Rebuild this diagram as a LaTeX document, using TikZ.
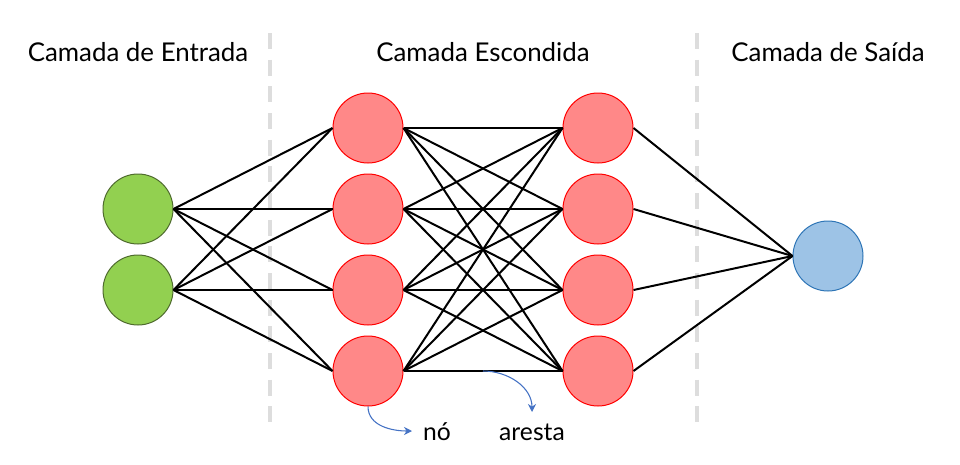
\documentclass[tikz,border=0pt]{standalone}
\usepackage{fontspec}
\setmainfont{Lato}
\usetikzlibrary{arrows.meta,calc}
\definecolor{ingreen}{HTML}{92D050}
\definecolor{ingreenb}{HTML}{4F6B2E}
\definecolor{hidred}{HTML}{FF8888}
\definecolor{hidredb}{HTML}{FF0000}
\definecolor{outblue}{HTML}{9DC3E6}
\definecolor{outblueb}{HTML}{2E75B6}
\definecolor{divgray}{HTML}{DDDDDD}
\definecolor{notecol}{HTML}{4472C4}
\tikzset{
  neuron/.style={circle, minimum size=52.5pt, inner sep=0pt, line width=0.75pt},
  inneuron/.style={neuron, draw=ingreenb, fill=ingreen},
  hidneuron/.style={neuron, draw=hidredb, fill=hidred},
  outneuron/.style={neuron, draw=outblueb, fill=outblue},
  edge/.style={line width=1.5pt, black},
  divider/.style={line width=2.4pt, divgray, dash pattern=on 12pt off 8pt},
  title/.style={font=\fontsize{19.4}{22}\selectfont},
  note/.style={font=\fontsize{18.5}{21}\selectfont},
  notearrow/.style={notecol, line width=0.8pt, -{Stealth[length=6pt,width=6pt]}}
}
\begin{document}
\begin{tikzpicture}[x=0.75pt,y=-0.75pt]
\useasboundingbox (0,0) rectangle (960,464);
% dividers
\coordinate (d1a) at (270,33); \coordinate (d1b) at (270,422);
\coordinate (d2a) at (697,33); \coordinate (d2b) at (697,422);
\draw[divider] (d1a) -- (d1b);
\draw[divider] (d2a) -- (d2b);
% titles
\node[title] (t1) at (138,52) {Camada de Entrada};
\node[title] (t2) at (483,52) {Camada Escondida};
\node[title] (t3) at (828,52) {Camada de Saída};
% neurons
\node[inneuron] (i1) at (138,209) {};
\node[inneuron] (i2) at (138,290) {};
\foreach \k/\y in {1/128,2/209,3/290,4/371} {
  \node[hidneuron] (a\k) at (368,\y) {};
  \node[hidneuron] (b\k) at (598,\y) {};
}
\node[outneuron] (o) at (828,256) {};
% edges
\foreach \i in {1,2} \foreach \k in {1,2,3,4} \draw[edge] (i\i.east) -- (a\k.west);
\foreach \i in {1,2,3,4} \foreach \k in {1,2,3,4} \draw[edge] (a\i.east) -- (b\k.west);
\foreach \k in {1,2,3,4} \draw[edge] (b\k.east) -- (o.west);
% notes
\coordinate (noend) at (412,431);
\coordinate (edgemid) at ($(a4.east)!0.5!(b4.west)$);
\coordinate (aend) at (532,412);
\draw[notearrow] (a4.south) to[out=-90,in=180] (noend);
\draw[notearrow] (edgemid) to[out=0,in=90] (aend);
\node[note] (lno) at (437,432) {nó};
\node[note] (lar) at (532,432) {aresta};
\end{tikzpicture}
\end{document}
